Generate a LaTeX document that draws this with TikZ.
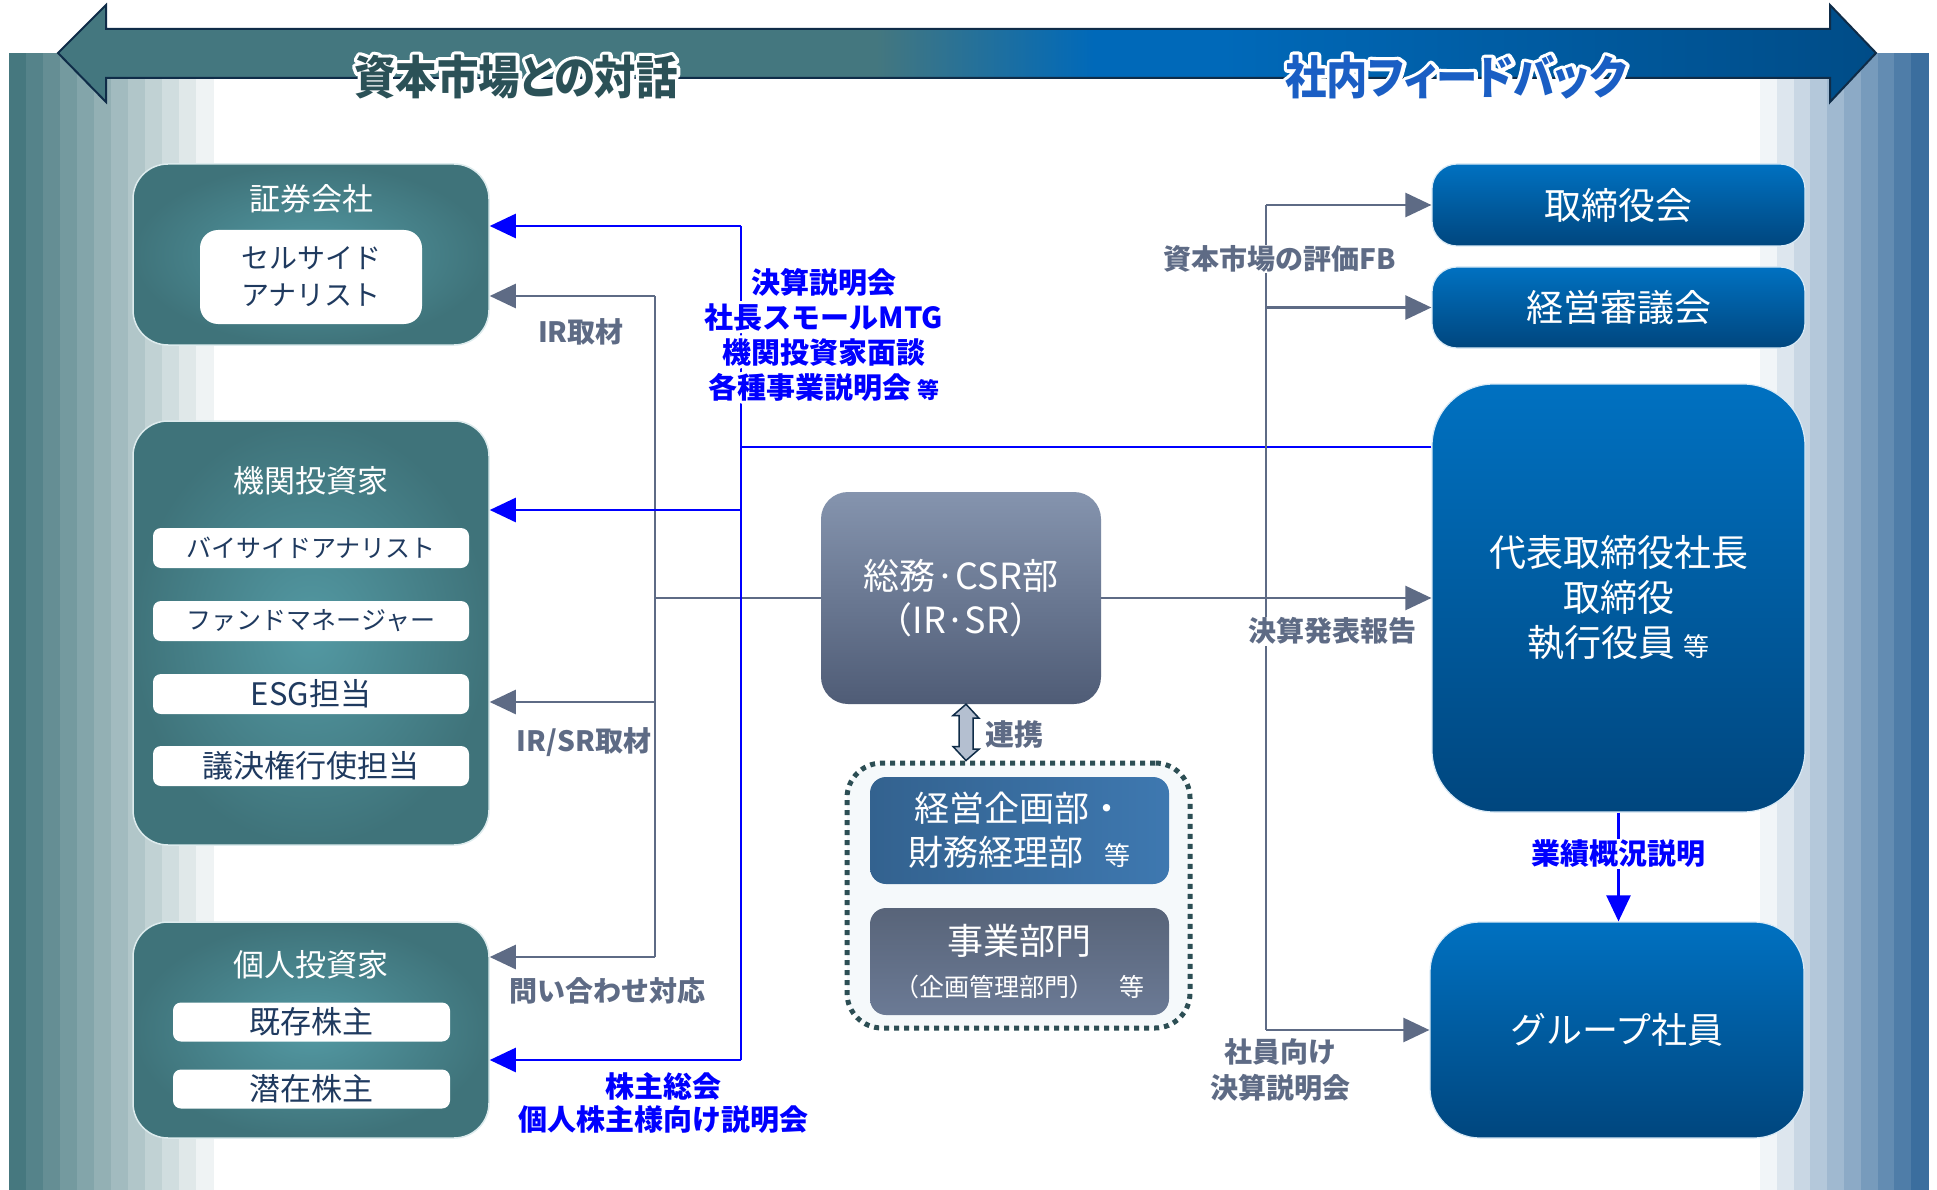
\documentclass[tikz,border=0pt]{standalone}
\usepackage{fontspec}
\setmainfont{Noto Sans CJK JP}
\newfontfamily\hdrfont{Noto Sans CJK JP}[FakeStretch=0.9,RawFeature=+palt]
\usetikzlibrary{arrows.meta,calc}
\newcommand\fsz[2]{\fontsize{#1}{#2}\selectfont}
\newcommand\halotxt[2]{\special{pdf:code 2 Tr #1 w 1 j 1 1 1 RG 1 1 1 rg}#2\special{pdf:code 0 Tr 1 w}}

\definecolor{tealA}{HTML}{3F737A}
\definecolor{tealB}{HTML}{5399A3}
\definecolor{navyT}{HTML}{1F3A5F}
\definecolor{slate}{HTML}{5E6B85}
\definecolor{pblue}{RGB}{0,0,255}
\definecolor{bTop}{HTML}{0071C1}
\definecolor{bBot}{HTML}{00467E}
\definecolor{csrTop}{HTML}{8594AE}
\definecolor{csrBot}{HTML}{4F5C76}
\definecolor{hdrTeal}{HTML}{44777F}
\definecolor{hdrBlue}{HTML}{0069B9}
\definecolor{hdrDark}{HTML}{004C87}
\definecolor{hdrLine}{HTML}{0F2C48}
\definecolor{hdrTxtL}{HTML}{2B5157}
\definecolor{hdrTxtR}{HTML}{1A5EC4}
\definecolor{dotC}{HTML}{2C4E54}
\definecolor{stripeL}{HTML}{46787F}
\definecolor{stripeR}{HTML}{3A6E9E}
\definecolor{plnL}{HTML}{33628F}
\definecolor{plnR}{HTML}{3E78B0}
\definecolor{bizT}{HTML}{586479}
\definecolor{bizB}{HTML}{6B7A95}
\definecolor{linkC}{HTML}{B4BFD0}
\definecolor{dfill}{HTML}{F5F9FB}

\pgfdeclarehorizontalshading{hdrshade}{100bp}{color(0bp)=(hdrTeal); color(47.5bp)=(hdrTeal); color(53.5bp)=(hdrBlue); color(57bp)=(hdrBlue); color(75bp)=(hdrDark); color(100bp)=(hdrDark)}

\begin{document}
\begin{tikzpicture}[x=1pt,y=-1pt,
  tealbox/.style={rounded corners=35pt, draw=white!80!tealB, line width=1.5pt, inner color=tealB, outer color=tealA, minimum width=356pt},
  whitebar/.style={fill=white, rounded corners=8pt, text=navyT, inner sep=0pt, align=center},
  titletxt/.style={text=white, font=\fsz{31}{36}},
  bluebox/.style={top color=bTop, bottom color=bBot, draw=white!85!bTop, line width=1.2pt, text=white, align=center, minimum width=373pt},
  subbox/.style={rounded corners=16pt, minimum width=299pt, minimum height=107pt, text=white, align=center},
  grayline/.style={draw=slate, line width=2.5pt},
  grayarrow/.style={grayline, -{Triangle[length=26pt,width=24pt]}},
  blueline/.style={draw=pblue, line width=2.5pt},
  bluearrow/.style={blueline, -{Triangle[length=26pt,width=24pt]}},
  graylabel/.style={text=slate, font=\bfseries\fsz{28}{36}, align=center},
  bluelabel/.style={text=pblue, font=\bfseries\fsz{29}{35}, align=center},
  headtxt/.style={font=\hdrfont\bfseries\fsz{46}{50}}
]
\useasboundingbox (0,0) rectangle (1937,1190);
\fill[white] (0,0) rectangle (1937,1190);

% side stripes
\foreach \i in {0,...,11}{
  \pgfmathsetmacro\p{100-\i*8.3}
  \fill[stripeL!\p!white] ({9+\i*17},53) rectangle ({9+(\i+1)*17+0.6},1190);
}
\foreach \i in {0,...,9}{
  \pgfmathsetmacro\p{7+\i*10.3}
  \fill[stripeR!\p!white] ({1760+\i*16.8},53) rectangle ({1760+(\i+1)*16.8+0.6},1190);
}

% header double arrow
\shadedraw[shading=hdrshade, draw=hdrLine, line width=2pt, line join=miter]
  (58,53) -- (106,5) -- (106,29) -- (1830,29) -- (1830,5) -- (1876,53)
  -- (1830,102) -- (1830,78) -- (106,78) -- (106,102) -- cycle;
\node[headtxt, text=white] at (516,77) {\halotxt{7}{資本市場との対話}};
\node[headtxt, text=white] at (1456,77) {\halotxt{7}{社内フィードバック}};
\node[headtxt, text=hdrTxtL] (hL) at (516,77) {資本市場との対話};
\node[headtxt, text=hdrTxtR] (hR) at (1456,77) {社内フィードバック};

% left column
\node[tealbox, minimum height=181pt] (sec) at (311,254.5) {};
\node[titletxt] (secT) at (311,199) {証券会社};
\node[whitebar, rounded corners=18pt, minimum width=222pt, minimum height=94pt, font=\fsz{28}{37}] (secA) at (311,277) {セルサイド\\アナリスト};

\node[tealbox, minimum height=424pt] (inst) at (311,633) {};
\node[titletxt] (instT) at (311,481) {機関投資家};
\node[whitebar, minimum width=316pt, minimum height=40pt, font=\fsz{25}{30}] (instA) at (311,548) {バイサイドアナリスト};
\node[whitebar, minimum width=316pt, minimum height=40pt, font=\fsz{25}{30}] (instB) at (311,621) {ファンドマネージャー};
\node[whitebar, minimum width=316pt, minimum height=40pt, font=\fsz{31}{36}] (instC) at (311,694) {ESG担当};
\node[whitebar, minimum width=316pt, minimum height=40pt, font=\fsz{31}{36}] (instD) at (311,766) {議決権行使担当};

\node[tealbox, minimum height=216pt] (ind) at (311,1030) {};
\node[titletxt] (indT) at (311,965) {個人投資家};
\node[whitebar, minimum width=277pt, minimum height=39pt, font=\fsz{31}{36}] (indA) at (311.5,1022) {既存株主};
\node[whitebar, minimum width=277pt, minimum height=39pt, font=\fsz{31}{36}] (indB) at (311.5,1089) {潜在株主};

% centre
\node[rounded corners=27pt, top color=csrTop, bottom color=csrBot, minimum width=280pt, minimum height=212pt, text=white, align=center, font=\fsz{36}{44}] (csr) at (961,598) {総務·CSR部\\（IR·SR）};

\node[draw=dotC, line width=5pt, dash pattern=on 5pt off 5pt, rounded corners=35pt, fill=dfill, minimum width=343pt, minimum height=265pt] (dbox) at (1018.5,895.5) {};
\node[subbox, left color=plnL, right color=plnR, font=\fsz{35}{44}] (pln) at (1019.5,830.5) {経営企画部・\\財務経理部\hspace{0.6em}{\fsz{26}{44}等}};
\node[subbox, top color=bizT, bottom color=bizB, font=\fsz{36}{42}] (biz) at (1019.5,961.5) {事業部門\\{\fsz{25}{36}（企画管理部門）　等}};

\draw[draw=hdrLine, line width=1.5pt, fill=linkC, line join=miter]
  ([xshift=5pt]csr.south) -- ++(13,14) -- ++(-6,0) -- ++(0,31) -- ++(6,0)
  -- ([xshift=5pt]csr.south |- dbox.north) -- ++(-13,-14) -- ++(6,0) -- ++(0,-31) -- ++(-6,0) -- cycle;
\node[text=slate, font=\bfseries\fsz{29}{34}, anchor=west] (lLink) at (982,735) {連携};

% right column
\node[bluebox, rounded corners=25pt, minimum height=82pt, font=\fsz{37}{44}] (board) at (1618.5,205) {取締役会};
\node[bluebox, rounded corners=25pt, minimum height=81pt, font=\fsz{37}{44}] (council) at (1618.5,307.5) {経営審議会};
\node[bluebox, rounded corners=62pt, minimum height=428pt, font=\fsz{37}{45}] (ceo) at (1618.5,598) {代表取締役社長\\取締役\\執行役員 {\fsz{26}{45}等}};
\node[bluebox, rounded corners=50pt, minimum width=374pt, minimum height=216pt, font=\fsz{36}{44}] (grp) at (1617,1030) {グループ社員};

% gray connectors (left)
\coordinate (gA) at (655,296);
\coordinate (gB) at (655,702);
\coordinate (gC) at (655,957);
\coordinate (gJ) at (655,598);
\draw[grayline] (csr.west) -- (gJ);
\draw[grayline] (gA) -- (gC);
\draw[grayarrow] (gA) -- (sec.east |- gA);
\draw[grayarrow] (gB) -- (inst.east |- gB);
\draw[grayarrow] (gC) -- (ind.east |- gC);

% gray connectors (right)
\coordinate (rA) at (1266,205);
\coordinate (rB) at (1266,307.5);
\coordinate (rC) at (1266,1030);
\coordinate (bJ) at (741,447);
\draw[blueline] (ceo.west |- bJ) -- (bJ);
\draw[grayline] (rA) -- (rC);
\draw[grayarrow] (rA) -- (board.west);
\draw[grayarrow] (rB) -- (council.west);
\draw[grayarrow] (rC) -- (grp.west);
\draw[grayarrow] (csr.east) -- (ceo.west);

% blue connectors
\coordinate (bA) at (741,226);
\coordinate (bB) at (741,510);
\coordinate (bC) at (741,1060);
\draw[blueline] (bA) -- (bC);
\draw[bluearrow] (bA) -- (sec.east |- bA);
\draw[bluearrow] (bB) -- (inst.east |- bB);
\draw[bluearrow] (bC) -- (ind.east |- bC);
\draw[bluearrow] (ceo.south) -- (ceo.south |- grp.north);

% labels
\node[graylabel] (lIR) at (581,332) {IR取材};
\node[graylabel, fill=white, inner sep=1pt] (lIRSR) at (584,742) {IR/SR取材};
\node[graylabel] (lQ) at (607,991) {問い合わせ対応};
\node[graylabel, fill=white, inner sep=1pt] (lFB) at (1280,259) {資本市場の評価FB};
\node[graylabel, fill=white, inner sep=1pt] (lRep) at (1332,631) {決算発表報告};
\node[graylabel] (lEmp) at (1280,1070) {社員向け\\決算説明会};
\node[bluelabel, fill=white, inner sep=1pt] (lPerf) at (1618,854) {業績概況説明};
\node[bluelabel, text=white] at (824,334.5) {\halotxt{6}{決算説明会\\社長スモールMTG\\機関投資家面談\\各種事業説明会 {\fsz{22}{35}等}}};
\node[bluelabel] (lMtg) at (824,334.5) {決算説明会\\社長スモールMTG\\機関投資家面談\\各種事業説明会 {\fsz{22}{35}等}};
\node[bluelabel, font=\bfseries\fsz{29}{33}] (lAgm) at (663,1103) {株主総会\\個人株主様向け説明会};
\end{tikzpicture}
\end{document}
